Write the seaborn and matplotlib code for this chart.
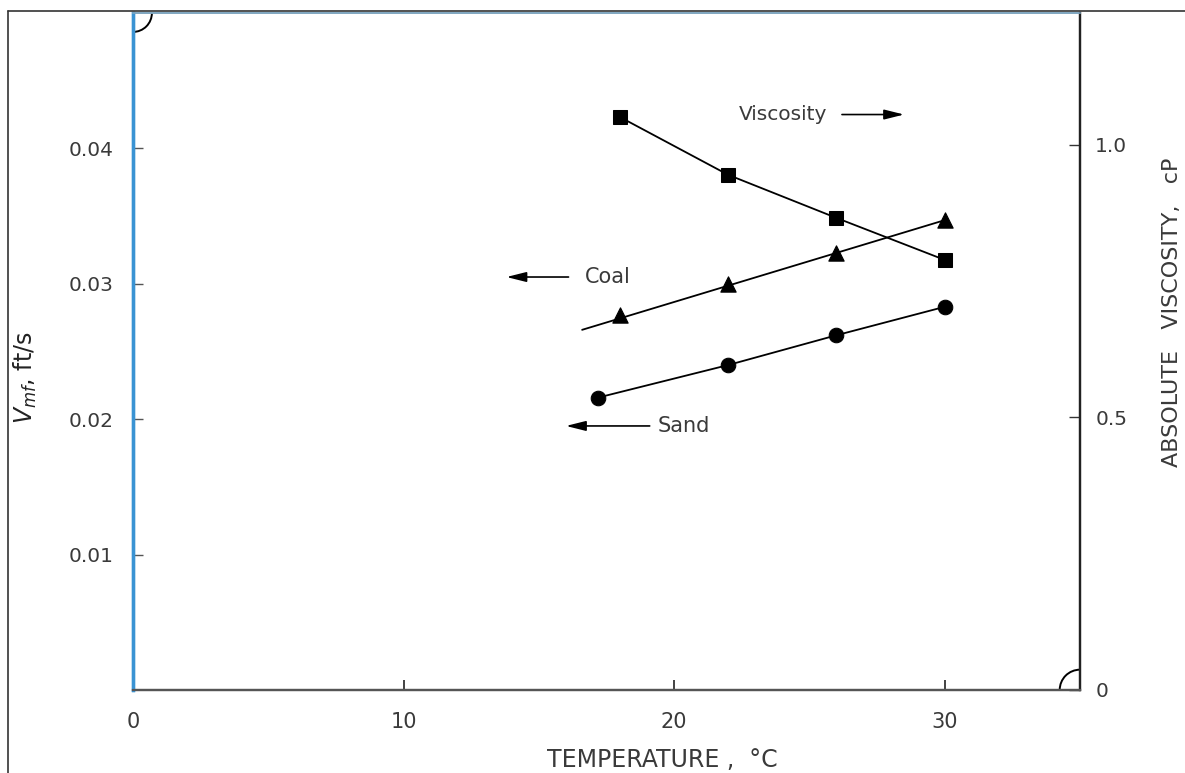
import numpy as np
import pandas as pd
import seaborn as sns
import matplotlib.pyplot as plt
from matplotlib.patches import Arc
from matplotlib.lines import Line2D

# temperature, deg C
visc_temp = [18, 22, 26, 30]
visc_cp = [1.051, 0.945, 0.866, 0.789]

coal_temp = [18, 22, 26, 30]
coal_vmf = [0.0277, 0.0300, 0.0323, 0.0347]
coal_fit_temp = [16.6, 30]
coal_fit_vmf = [0.0266, 0.0347]

sand_temp = [17.2, 22, 26, 30]
sand_vmf = [0.0216, 0.0240, 0.0262, 0.0283]

x_ticks = [0, 10, 20, 30]
left_ticks = [0.01, 0.02, 0.03, 0.04]
left_labels = ["0.01", "0.02", "0.03", "0.04"]
right_ticks = [0, 0.5, 1.0]
right_labels = ["0", "0.5", "1.0"]

sns.set_theme(style="white")
plt.rcParams['font.family'] = ['DejaVu Sans']
txt = "#3a3a3a"

fig = plt.figure(figsize=(11.85, 7.73), dpi=100)
ax = fig.add_axes([0.1122, 0.1074, 0.7992, 0.8758])
ax2 = ax.twinx()

df_c = pd.DataFrame({"t": coal_fit_temp, "v": coal_fit_vmf})
sns.lineplot(data=df_c, x="t", y="v", ax=ax, color="black", lw=1.3)
sns.scatterplot(x=coal_temp, y=coal_vmf, ax=ax, marker="^", s=120,
                color="black", edgecolor="black", zorder=5)

df_s = pd.DataFrame({"t": sand_temp, "v": sand_vmf})
sns.lineplot(data=df_s, x="t", y="v", ax=ax, color="black", lw=1.3,
             marker="o", markersize=10.5, markeredgecolor="black")

df_v = pd.DataFrame({"t": visc_temp, "v": visc_cp})
sns.lineplot(data=df_v, x="t", y="v", ax=ax2, color="black", lw=1.3,
             marker="s", markersize=9.5, markeredgecolor="black")

ax.set_xlim(0, 35)
ax.set_ylim(0, 0.05)
ax2.set_ylim(0, 1.242)

ax.set_xticks(x_ticks)
ax.set_xticklabels([str(t) for t in x_ticks])
ax.set_yticks(left_ticks)
ax.set_yticklabels(left_labels)
ax2.set_yticks(right_ticks)
ax2.set_yticklabels(right_labels)

ax.tick_params(axis="x", direction="in", length=7, width=1.2, colors="#222",
               labelcolor=txt, labelsize=15, pad=16, bottom=True)
ax.tick_params(axis="y", direction="in", length=7, width=1.0, colors="#555",
               labelcolor=txt, labelsize=14.5, pad=14, left=True)
ax2.tick_params(axis="y", direction="in", length=8, width=1.0, colors="#333",
                labelcolor=txt, labelsize=14.5, pad=11, right=True)

ax.set_xlabel("")
ax.set_ylabel("")
ax2.set_ylabel("")

for a in (ax, ax2):
    a.spines["left"].set_color("#3a93d3")
    a.spines["left"].set_linewidth(2.4)
    a.spines["top"].set_color("#7fa6c0")
    a.spines["top"].set_linewidth(1.2)
    a.spines["bottom"].set_color("#555")
    a.spines["bottom"].set_linewidth(1.6)
    a.spines["right"].set_color("#222")
    a.spines["right"].set_linewidth(1.6)

# corner arcs
ax.add_patch(Arc((0, 0.05), 1.4, 0.0028, theta1=270, theta2=360,
                 color="black", lw=1.4, clip_on=False))
ax.add_patch(Arc((35, 0), 1.5, 0.003, theta1=90, theta2=180,
                 color="black", lw=1.4, clip_on=False))

# annotations
arrow = dict(arrowstyle="-|>,head_length=1.0,head_width=0.25",
             color="black", lw=1.2)
ax.text(22.4, 0.0425, "Viscosity", fontsize=14.5, color=txt, va="center")
ax.annotate("", xy=(28.6, 0.0425), xytext=(26.1, 0.0425), arrowprops=arrow)
ax.text(16.7, 0.0305, "Coal", fontsize=15, color=txt, va="center")
ax.annotate("", xy=(13.7, 0.0305), xytext=(16.2, 0.0305), arrowprops=arrow)
ax.text(19.4, 0.0195, "Sand", fontsize=15, color=txt, va="center")
ax.annotate("", xy=(15.9, 0.0195), xytext=(19.2, 0.0195), arrowprops=arrow)

fig.text(25 / 1185, 1 - 378 / 773, r"$V_{mf}$, ft/s", rotation=90,
         fontsize=17, color="#222", ha="center", va="center")
fig.text(1172 / 1185, 1 - 312 / 773, "ABSOLUTE   VISCOSITY,   cP",
         rotation=90, fontsize=16, color=txt, ha="center", va="center")
fig.text(662 / 1185, 1 - 760 / 773, "TEMPERATURE ,  °C", fontsize=17,
         color=txt, ha="center", va="center")

# page frame
fig.add_artist(Line2D([8 / 1185, 8 / 1185], [0, 1 - 11 / 773],
                      color="#333", lw=1.2))
fig.add_artist(Line2D([8 / 1185, 1], [1 - 11 / 773, 1 - 11 / 773],
                      color="#333", lw=1.2))

fig.savefig("out.png", dpi=100)
plt.close(fig)
